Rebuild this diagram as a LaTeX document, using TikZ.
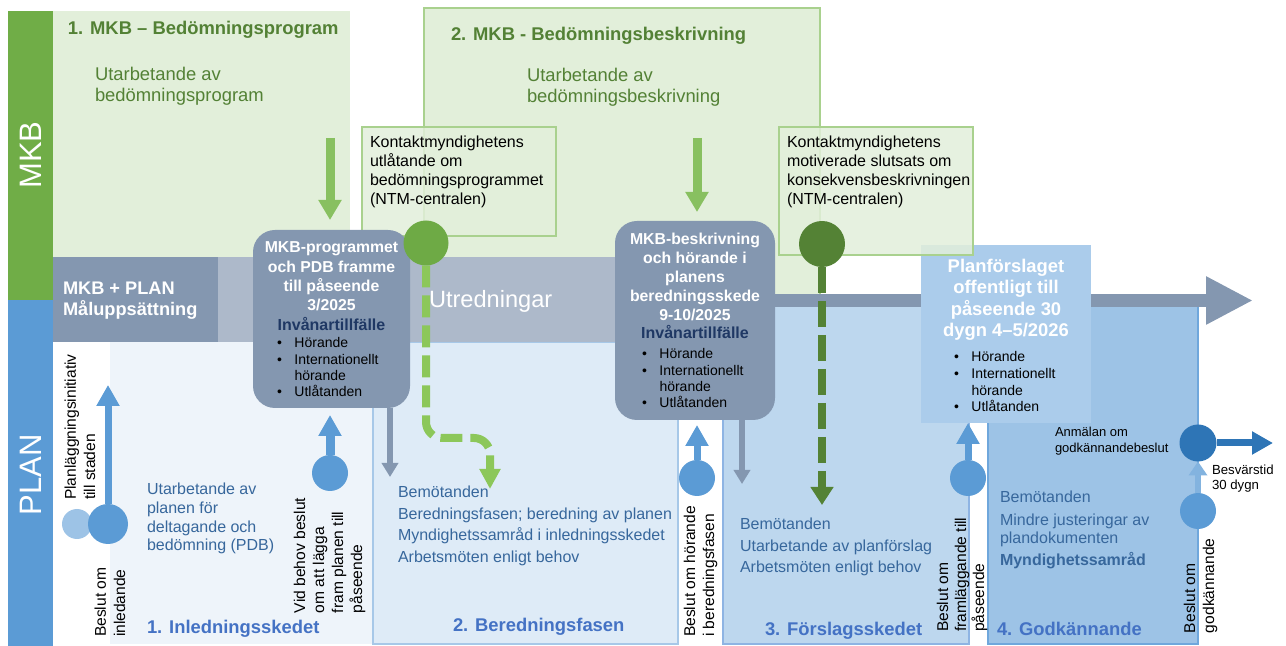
\documentclass[tikz,border=0pt]{standalone}
\usepackage{fontspec}
\setmainfont{Liberation Sans}
\usetikzlibrary{arrows.meta,fit,calc}

\definecolor{mkbgreen}{HTML}{70AD47}
\definecolor{mkblight}{HTML}{E2EFDA}
\definecolor{mkbedge}{HTML}{A9D18E}
\definecolor{mkbtext}{HTML}{538135}
\definecolor{gsolid}{HTML}{88C060}
\definecolor{gdashc}{HTML}{8CC75A}
\definecolor{gdot}{HTML}{6EAA45}
\definecolor{gdark}{HTML}{548235}
\definecolor{planblue}{HTML}{5B9BD5}
\definecolor{ljusbla}{HTML}{9DC3E6}
\definecolor{morkbla}{HTML}{2E75B6}
\definecolor{bandgrey}{HTML}{ADB9CA}
\definecolor{boxgrey}{HTML}{8497B0}
\definecolor{fasA}{HTML}{EEF4FA}
\definecolor{fasB}{HTML}{DEEBF7}
\definecolor{fasBedge}{HTML}{A7C8E8}
\definecolor{fasC}{HTML}{BDD7EE}
\definecolor{fasCedge}{HTML}{8EB4E3}
\definecolor{fasD}{HTML}{9DC3E6}
\definecolor{fasDedge}{HTML}{6FA7DC}
\definecolor{pfblue}{HTML}{ABCCEB}
\definecolor{ptxt}{HTML}{37679C}
\definecolor{ptit}{HTML}{4472C4}
\definecolor{invnavy}{HTML}{1F3864}

\newcommand\fsz[2]{\fontsize{#1}{#2}\selectfont}
\newcommand\pkt{\makebox[8.75pt][l]{\textbullet}}

\tikzset{
  every node/.style={inner sep=0pt, outer sep=0pt},
  txt/.style={anchor=base west, align=left},
  rot/.style={txt, rotate=90, font=\fsz{7.8}{9.5}},
  rbox/.style={fill=boxgrey, rounded corners=11pt},
  kbox/.style={fill=mkblight, fill opacity=.85, draw=mkbedge, line width=1.3pt},
  fasline/.style={line width=1pt},
  blob/.style={circle, fill=#1, minimum size=18pt},
  btitle/.style={anchor=base, align=center, text=white, font=\bfseries\fsz{7.9}{9.7}},
  inv/.style={anchor=base, text=invnavy, font=\bfseries\fsz{8}{9.7}},
  bul/.style={txt, font=\fsz{7}{8.2}},
  ptext/.style={txt, text=ptxt, font=\fsz{8}{10.75}},
  ptitle/.style={txt, text=ptit, font=\bfseries\fsz{9.2}{11}},
  gpil/.style={gsolid, line width=4.5pt, -{Triangle[width=11pt,length=10pt]}},
  bpil/.style={planblue, line width=3.5pt, -{Triangle[width=11pt,length=10.5pt]}},
  grpil/.style={boxgrey, line width=3pt, -{Triangle[width=8pt,length=7pt]}},
  dpil/.style={line width=4pt, dash pattern=on 11pt off 4pt, -{Triangle[width=10pt,length=10pt]}}
}

\begin{document}
\begin{tikzpicture}[x=0.5pt,y=-0.5pt]
\useasboundingbox (0,0) rectangle (1286,646);

% MKB-delen
\fill[mkblight] (53,11) rectangle (350,257);
\node[fit={(424,8) (820,295)}, fill=mkblight, draw=mkbedge, line width=1.2pt] (mkbtwo) {};

% planfaserna
\node[fit={(110,342) (372,644)}, fill=fasA] (fas1) {};
\node[fit={(373,342) (678,644)}, fill=fasB, draw=fasBedge, fasline] (fas2) {};
\node[fit={(723,300) (969,644)}, fill=fasC, draw=fasCedge, fasline] (fas3) {};
\node[fit={(988,300) (1198,644)}, fill=fasD, draw=fasDedge, fasline] (fas4) {};

% tidslinjen
\fill[bandgrey] (218,257) rectangle (773,342);
\node[fit={(53,257) (218,342)}, fill=boxgrey] (malupp) {};
\coordinate (tlstart) at (773,300.5);
\coordinate (tlend) at (1253,300.5);
\draw[boxgrey, line width=6.5pt, -{Triangle[width=22.5pt,length=23.5pt]}] (tlstart) -- (tlend);

\node[fit={(921,245) (1091,423)}, fill=pfblue] (pfbox) {};
\node[kbox, fit={(362,127) (556,236)}] (kont1) {};
\node[kbox, fit={(779,127) (973,255)}] (kont2) {};

\node[fit={(8,11) (53,300)}, fill=mkbgreen] (mkbbar) {};
\node[fit={(8,300) (53,646)}, fill=planblue] (planbar) {};
\node[rotate=90, text=white, font=\fsz{15.5}{18}] (mkblbl) at (30.5,155) {MKB};
\node[rotate=90, text=white, font=\fsz{15.5}{18}] (planlbl) at (30.5,475) {PLAN};

\node[rbox, fit={(253,230) (410,408)}] (progA) {};
\node[rbox, fit={(615,221) (775,420)}] (beskB) {};

% gröna pilar och punkter
\coordinate (gA) at (330,138);
\coordinate (gB) at (697,138);
\draw[gpil] (gA) -- ($(progA.north -| gA)+(0,-10)$);
\draw[gpil] (gB) -- ($(beskB.north -| gB)+(0,-9)$);

\node[blob=gdot, minimum size=22.5pt] (ntm1) at (426,243) {};
\node[blob=gdark, minimum size=23pt] (ntm2) at (822,244) {};
\coordinate (bem2) at (490,489);
\coordinate (bem3) at (822,505);
\draw[dpil, gdashc, rounded corners=8pt] (ntm1.south) -- (426,438) -- (490,438) -- (bem2);
\draw[dpil, gdark, dash pattern=on 13pt off 4pt, -{Triangle[width=11pt,length=9pt]}] (ntm2.south) -- (bem3);

% blå pilar och beslut
\node[blob=ljusbla, minimum size=15pt] (init0) at (77,524) {};
\node[blob=planblue, minimum size=20pt] (init1) at (108,524) {};
\coordinate (initpil) at (108,385);
\draw[bpil] (init1.north) -- (initpil);

\node[blob=planblue] (vb1) at (330,473) {};
\draw[bpil, line width=4.5pt] (vb1.north) -- ($(progA.south -| vb1)+(0,7)$);
\node[blob=planblue] (vb2) at (697,478) {};
\draw[bpil] (vb2.north) -- ($(beskB.south -| vb2)+(0,5)$);
\node[blob=planblue] (vb3) at (968,478) {};
\draw[bpil] (vb3.north) -- (pfbox.south -| vb3);
\node[blob=planblue] (vb4) at (1198,511) {};
\node[blob=morkbla, minimum size=18.5pt] (godk) at (1198,443) {};
\draw[bpil, ljusbla!60!planblue, line width=3pt, -{Triangle[width=9pt,length=7pt]}] (vb4.north) -- (godk.south);
\coordinate (besvar) at (1273,443);
\draw[bpil, morkbla] (godk.east) -- (besvar);

% grå pilar
\coordinate (bemA) at (390,477);
\coordinate (bemB) at (742,484);
\draw[grpil] (progA.south -| bemA) -- (bemA);
\draw[grpil] (beskB.south -| bemB) -- (bemB);

% texter MKB
\node[txt, text=mkbtext, font=\bfseries\fsz{9.2}{11}] (rub1) at (68,35) {1. MKB – Bedömningsprogram};
\node[txt, text=mkbtext, font=\fsz{9.2}{10.8}] (utarb1) at (95,102) {Utarbetande av\\bedömningsprogram};
\node[txt, text=mkbtext, font=\bfseries\fsz{9.2}{11}] (rub2) at (451,41) {2. MKB - Bedömningsbeskrivning};
\node[txt, text=mkbtext, font=\fsz{9.2}{10.3}] (utarb2) at (527,102.5) {Utarbetande av\\bedömningsbeskrivning};
\node[txt, font=\fsz{8}{9.65}] (kont1txt) at (370,205) {Kontaktmyndighetens\\utlåtande om\\bedömningsprogrammet\\(NTM-centralen)};
\node[txt, font=\fsz{8}{9.65}] (kont2txt) at (787,205) {Kontaktmyndighetens\\motiverade slutsats om\\konsekvensbeskrivningen\\(NTM-centralen)};

% texter tidslinjen
\node[txt, text=white, font=\bfseries\fsz{9.1}{10.5}] (maltxt) at (63,316) {MKB + PLAN\\Måluppsättning};
\node[txt, text=white, font=\fsz{11.8}{14}] (utred) at (429,308) {Utredningar};

\node[btitle] (progAtxt) at (331.5,311) {MKB-programmet\\och PDB framme\\till påseende\\3/2025};
\node[inv] (invA) at (331.5,331) {Invånartillfälle};
\node[bul] (bulA) at (277,397) {\pkt Hörande\\\pkt Internationellt\\\hphantom{\pkt}hörande\\\pkt Utlåtanden};

\node[btitle, font=\bfseries\fsz{7.9}{9.6}] (beskBtxt) at (695,321) {MKB-beskrivning\\och hörande i\\planens\\beredningsskede\\9-10/2025};
\node[inv] (invB) at (695,339) {Invånartillfälle};
\node[bul] (bulB) at (642,408) {\pkt Hörande\\\pkt Internationellt\\\hphantom{\pkt}hörande\\\pkt Utlåtanden};

\node[btitle, font=\bfseries\fsz{9.2}{10.8}] (pftxt) at (1006,337) {Planförslaget\\offentligt till\\påseende 30\\dygn 4–5/2026};
\node[bul, font=\fsz{7}{8.35}] (bulP) at (954,412) {\pkt Hörande\\\pkt Internationellt\\\hphantom{\pkt}hörande\\\pkt Utlåtanden};

% texter planfaserna
\node[ptext, font=\fsz{8}{9.35}] (pdb) at (147,551) {Utarbetande av\\planen för\\deltagande och\\bedömning (PDB)};
\node[ptitle] (fas1txt) at (147,633) {1. Inledningsskedet};
\node[ptext] (bered) at (398,562.5) {Bemötanden\\Beredningsfasen; beredning av planen\\Myndighetssamråd i inledningsskedet\\Arbetsmöten enligt behov};
\node[ptitle] (fas2txt) at (453,632) {2. Beredningsfasen};
\node[ptext] (forsl) at (740,573) {Bemötanden\\Utarbetande av planförslag\\Arbetsmöten enligt behov};
\node[ptitle] (fas3txt) at (765,636) {3. Förslagsskedet};
\node[ptext, font=\fsz{8}{9}] (godktxt) at (1000,566) {Bemötanden\\[2.5pt]Mindre justeringar av\\plandokumenten\\[2pt]\textbf{Myndighetssamråd}};
\node[ptitle] (fas4txt) at (997,636) {4. Godkännande};
\node[txt, font=\fsz{6.5}{8}] (anm) at (1055,453) {Anmälan om\\godkännandebeslut};
\node[txt, font=\fsz{6.6}{7.6}] (besvtxt) at (1212,490) {Besvärstid\\30 dygn};

% stående texter
\node[rot] (initiativ) at (95,500) {Planläggningsinitiativ\\till staden};
\node[rot] (inled) at (125,637) {Beslut om\\inledande};
\node[rot] (vidbehov) at (362,613) {Vid behov beslut\\om att lägga\\fram planen till\\påseende};
\node[rot] (horande) at (714,637) {Beslut om hörande\\i beredningsfasen};
\node[rot, font=\fsz{7.8}{9}] (framl) at (984,632) {Beslut om\\framläggande till\\påseende};
\node[rot] (godkbeslut) at (1214,633) {Beslut om\\godkännande};
\end{tikzpicture}
\end{document}
